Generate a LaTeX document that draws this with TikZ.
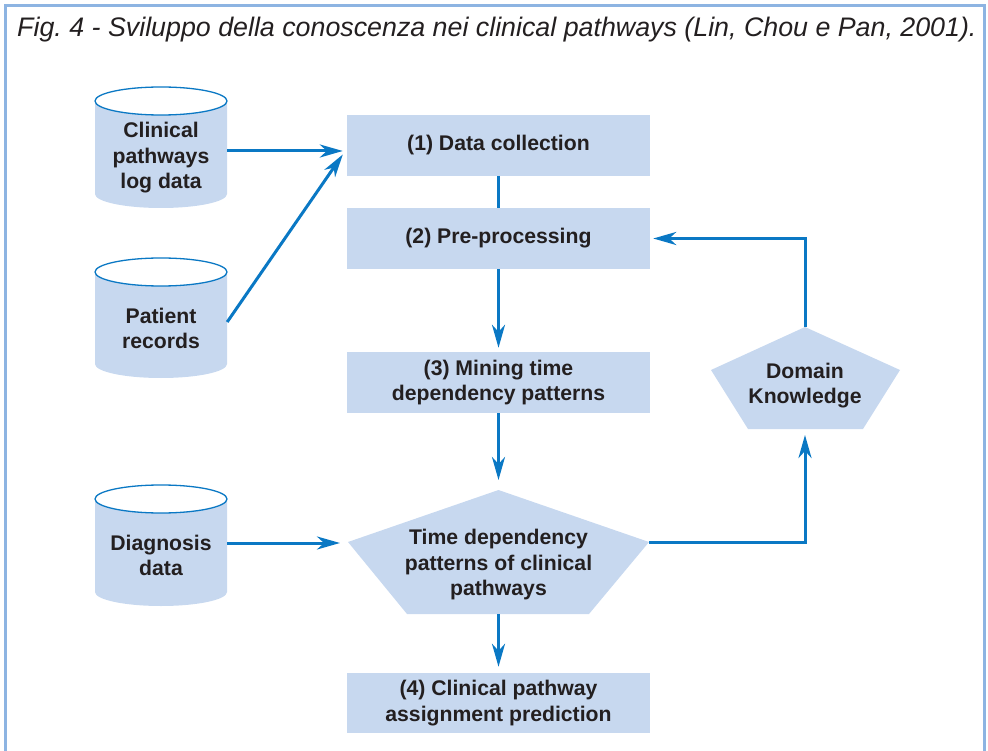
\documentclass[tikz,border=0pt]{standalone}
\usepackage{fontspec}
\setmainfont{Liberation Sans}
\usetikzlibrary{arrows.meta,calc}
\definecolor{boxfill}{HTML}{C7D8EF}
\definecolor{flow}{HTML}{0A78C4}
\definecolor{ink}{HTML}{231F20}
\definecolor{frameblue}{HTML}{8DB4E2}

% database drum: centre x, top y, bottom y
\newcommand\dbdrum[3]{%
  \fill[boxfill] (#1-66,#2) -- (#1-66,#3)
    arc[start angle=180,end angle=0,x radius=66,y radius=14] -- (#1+66,#2) -- cycle;
  \draw[flow, line width=1.3pt, fill=white] (#1,#2) ellipse[x radius=66, y radius=14];
}

\begin{document}
\frenchspacing
\begin{tikzpicture}[x=1pt,y=-1pt,
  lbl/.style={font=\fontsize{21.2}{25.5}\selectfont\bfseries, text=ink, align=center, inner sep=0pt},
  stepbox/.style={lbl, fill=boxfill, minimum width=303pt, minimum height=61pt},
  port/.style={minimum width=132pt, minimum height=1pt, inner sep=0pt},
  flowline/.style={draw=flow, line width=3pt},
  flowarrow/.style={flowline, -{Stealth[length=23pt,width=13pt,inset=7pt]}},
]
\useasboundingbox (0,0) rectangle (988,751);

% outer frame, open at the bottom
\draw[frameblue, line width=2.6pt] (5.5,751) -- (5.5,5.5) -- (984.5,5.5) -- (984.5,751);

% caption
\node[anchor=base west, font=\fontsize{26.8}{30}\selectfont\itshape, text=ink, inner sep=0pt]
  (title) at (17,37) {Fig.\ 4 - Sviluppo della conoscenza nei clinical pathways (Lin, Chou e Pan, 2001).};

% data sources
\dbdrum{161}{101}{194}
\dbdrum{161}{272}{364}
\dbdrum{161}{499}{592}
\node[port] (c1) at (161,151) {};
\node[lbl] (c1t) at (161,158) {Clinical\\pathways\\log data};
\node[port] (c2) at (161,322) {};
\node[lbl] (c2t) at (161,328.5) {Patient\\records};
\node[port] (c3) at (161,543) {};
\node[lbl] (c3t) at (161,555.5) {Diagnosis\\data};

% process steps
\node[stepbox] (b1) at (498.5,145.5) {(1) Data collection};
\node[stepbox] (b2) at (498.5,238.5) {(2) Pre-processing};
\node[stepbox] (b3) at (498.5,382.5) {(3) Mining time\\dependency patterns};
\node[stepbox, minimum height=60pt] (b4) at (498.5,703) {(4) Clinical pathway\\assignment prediction};

% pattern pentagon
\fill[boxfill] (498.5,490) coordinate (p1t) -- (649,542) coordinate (p1r)
  -- (589,614) coordinate (p1br) -- (407,614) coordinate (p1bl)
  -- (348,542) coordinate (p1l) -- cycle;
\coordinate (p1b) at (498.5,614);
\node[lbl] (p1) at (498.5,565) {Time dependency\\patterns of clinical\\pathways};

% domain knowledge pentagon
\fill[boxfill] (805,327) coordinate (dkt) -- (900,370) -- (863,429) coordinate (dkbr)
  -- (748,429) coordinate (dkbl) -- (711,370) -- cycle;
\coordinate (dkb) at (805,429);
\node[lbl] (dk) at (805,385.5) {Domain\\Knowledge};

% connectors
\coordinate (b1in) at ($(b1.west)+(-4,9)$);
\draw[flowarrow, shorten >=4pt] (c1.east) -- (c1.east -| b1.west);
\draw[flowarrow] (c2.east) -- (b1in);
\draw[flowline] (b1.south) -- (b2.north);
\draw[flowarrow, shorten >=4pt] (b2.south) -- (b3.north);
\draw[flowarrow, shorten >=10pt] (b3.south) -- (p1t);
\draw[flowarrow, shorten >=6pt] (p1b) -- (b4.north);
\draw[flowarrow, shorten >=8pt] (c3.east) -- (c3.east -| p1l);
\draw[flowarrow, shorten >=6pt] (p1r) -| (dkb);
\draw[flowarrow, shorten >=3pt] (dkt) |- (b2.east);
\end{tikzpicture}
\end{document}
